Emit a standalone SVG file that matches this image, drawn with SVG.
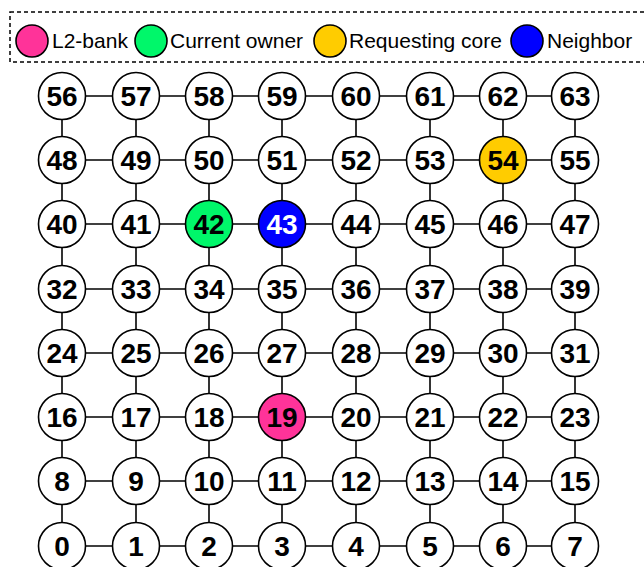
<svg xmlns="http://www.w3.org/2000/svg" width="644" height="567" viewBox="0 0 644 567">
<style>
.n circle{fill:#fff;stroke:#000;stroke-width:1.6}
.n text{font-family:"Liberation Sans",Arial,sans-serif;font-weight:bold;font-size:28px;text-anchor:middle;fill:#000}
.lg text{font-family:"Liberation Sans",Arial,sans-serif;font-size:21px;fill:#000}
.lg circle{stroke:#000;stroke-width:1.6}
#edges line{stroke:#000;stroke-width:1.6}
</style>
<rect width="644" height="567" fill="#fff"/>
<g id="legend" class="lg">
<rect x="10" y="12" width="640" height="50" fill="none" stroke="#000" stroke-width="1.5" stroke-dasharray="4,3"/>
<circle cx="32" cy="41" r="16" fill="#FF3399"/><text x="52" y="48">L2-bank</text>
<circle cx="151" cy="41" r="16" fill="#00F76A"/><text x="170" y="48">Current owner</text>
<circle cx="330" cy="41" r="16" fill="#FFCC00"/><text x="349" y="48">Requesting core</text>
<circle cx="527" cy="41" r="16" fill="#0000FF"/><text x="547" y="48">Neighbor</text>
</g>
<g id="edges">
<line x1="62" y1="96" x2="575" y2="96"/>
<line x1="62" y1="160" x2="575" y2="160"/>
<line x1="62" y1="224" x2="575" y2="224"/>
<line x1="62" y1="289" x2="575" y2="289"/>
<line x1="62" y1="353" x2="575" y2="353"/>
<line x1="62" y1="417" x2="575" y2="417"/>
<line x1="62" y1="481" x2="575" y2="481"/>
<line x1="62" y1="546" x2="575" y2="546"/>
<line x1="62" y1="96" x2="62" y2="546"/>
<line x1="136" y1="96" x2="136" y2="546"/>
<line x1="209" y1="96" x2="209" y2="546"/>
<line x1="282" y1="96" x2="282" y2="546"/>
<line x1="356" y1="96" x2="356" y2="546"/>
<line x1="430" y1="96" x2="430" y2="546"/>
<line x1="503" y1="96" x2="503" y2="546"/>
<line x1="575" y1="96" x2="575" y2="546"/>
</g>
<g id="n56" class="n"><circle cx="62" cy="96" r="23.5"/><text x="62" y="106">56</text></g>
<g id="n57" class="n"><circle cx="136" cy="96" r="23.5"/><text x="136" y="106">57</text></g>
<g id="n58" class="n"><circle cx="209" cy="96" r="23.5"/><text x="209" y="106">58</text></g>
<g id="n59" class="n"><circle cx="282" cy="96" r="23.5"/><text x="282" y="106">59</text></g>
<g id="n60" class="n"><circle cx="356" cy="96" r="23.5"/><text x="356" y="106">60</text></g>
<g id="n61" class="n"><circle cx="430" cy="96" r="23.5"/><text x="430" y="106">61</text></g>
<g id="n62" class="n"><circle cx="503" cy="96" r="23.5"/><text x="503" y="106">62</text></g>
<g id="n63" class="n"><circle cx="575" cy="96" r="23.5"/><text x="575" y="106">63</text></g>
<g id="n48" class="n"><circle cx="62" cy="160" r="23.5"/><text x="62" y="170">48</text></g>
<g id="n49" class="n"><circle cx="136" cy="160" r="23.5"/><text x="136" y="170">49</text></g>
<g id="n50" class="n"><circle cx="209" cy="160" r="23.5"/><text x="209" y="170">50</text></g>
<g id="n51" class="n"><circle cx="282" cy="160" r="23.5"/><text x="282" y="170">51</text></g>
<g id="n52" class="n"><circle cx="356" cy="160" r="23.5"/><text x="356" y="170">52</text></g>
<g id="n53" class="n"><circle cx="430" cy="160" r="23.5"/><text x="430" y="170">53</text></g>
<g id="n54" class="n"><circle cx="503" cy="160" r="23.5" style="fill:#FFCC00"/><text x="503" y="170">54</text></g>
<g id="n55" class="n"><circle cx="575" cy="160" r="23.5"/><text x="575" y="170">55</text></g>
<g id="n40" class="n"><circle cx="62" cy="224" r="23.5"/><text x="62" y="234">40</text></g>
<g id="n41" class="n"><circle cx="136" cy="224" r="23.5"/><text x="136" y="234">41</text></g>
<g id="n42" class="n"><circle cx="209" cy="224" r="23.5" style="fill:#00F76A"/><text x="209" y="234">42</text></g>
<g id="n43" class="n"><circle cx="282" cy="224" r="23.5" style="fill:#0000FF"/><text x="282" y="234" style="fill:#fff">43</text></g>
<g id="n44" class="n"><circle cx="356" cy="224" r="23.5"/><text x="356" y="234">44</text></g>
<g id="n45" class="n"><circle cx="430" cy="224" r="23.5"/><text x="430" y="234">45</text></g>
<g id="n46" class="n"><circle cx="503" cy="224" r="23.5"/><text x="503" y="234">46</text></g>
<g id="n47" class="n"><circle cx="575" cy="224" r="23.5"/><text x="575" y="234">47</text></g>
<g id="n32" class="n"><circle cx="62" cy="289" r="23.5"/><text x="62" y="299">32</text></g>
<g id="n33" class="n"><circle cx="136" cy="289" r="23.5"/><text x="136" y="299">33</text></g>
<g id="n34" class="n"><circle cx="209" cy="289" r="23.5"/><text x="209" y="299">34</text></g>
<g id="n35" class="n"><circle cx="282" cy="289" r="23.5"/><text x="282" y="299">35</text></g>
<g id="n36" class="n"><circle cx="356" cy="289" r="23.5"/><text x="356" y="299">36</text></g>
<g id="n37" class="n"><circle cx="430" cy="289" r="23.5"/><text x="430" y="299">37</text></g>
<g id="n38" class="n"><circle cx="503" cy="289" r="23.5"/><text x="503" y="299">38</text></g>
<g id="n39" class="n"><circle cx="575" cy="289" r="23.5"/><text x="575" y="299">39</text></g>
<g id="n24" class="n"><circle cx="62" cy="353" r="23.5"/><text x="62" y="363">24</text></g>
<g id="n25" class="n"><circle cx="136" cy="353" r="23.5"/><text x="136" y="363">25</text></g>
<g id="n26" class="n"><circle cx="209" cy="353" r="23.5"/><text x="209" y="363">26</text></g>
<g id="n27" class="n"><circle cx="282" cy="353" r="23.5"/><text x="282" y="363">27</text></g>
<g id="n28" class="n"><circle cx="356" cy="353" r="23.5"/><text x="356" y="363">28</text></g>
<g id="n29" class="n"><circle cx="430" cy="353" r="23.5"/><text x="430" y="363">29</text></g>
<g id="n30" class="n"><circle cx="503" cy="353" r="23.5"/><text x="503" y="363">30</text></g>
<g id="n31" class="n"><circle cx="575" cy="353" r="23.5"/><text x="575" y="363">31</text></g>
<g id="n16" class="n"><circle cx="62" cy="417" r="23.5"/><text x="62" y="427">16</text></g>
<g id="n17" class="n"><circle cx="136" cy="417" r="23.5"/><text x="136" y="427">17</text></g>
<g id="n18" class="n"><circle cx="209" cy="417" r="23.5"/><text x="209" y="427">18</text></g>
<g id="n19" class="n"><circle cx="282" cy="417" r="23.5" style="fill:#FF3399"/><text x="282" y="427">19</text></g>
<g id="n20" class="n"><circle cx="356" cy="417" r="23.5"/><text x="356" y="427">20</text></g>
<g id="n21" class="n"><circle cx="430" cy="417" r="23.5"/><text x="430" y="427">21</text></g>
<g id="n22" class="n"><circle cx="503" cy="417" r="23.5"/><text x="503" y="427">22</text></g>
<g id="n23" class="n"><circle cx="575" cy="417" r="23.5"/><text x="575" y="427">23</text></g>
<g id="n8" class="n"><circle cx="62" cy="481" r="23.5"/><text x="62" y="491">8</text></g>
<g id="n9" class="n"><circle cx="136" cy="481" r="23.5"/><text x="136" y="491">9</text></g>
<g id="n10" class="n"><circle cx="209" cy="481" r="23.5"/><text x="209" y="491">10</text></g>
<g id="n11" class="n"><circle cx="282" cy="481" r="23.5"/><text x="282" y="491">11</text></g>
<g id="n12" class="n"><circle cx="356" cy="481" r="23.5"/><text x="356" y="491">12</text></g>
<g id="n13" class="n"><circle cx="430" cy="481" r="23.5"/><text x="430" y="491">13</text></g>
<g id="n14" class="n"><circle cx="503" cy="481" r="23.5"/><text x="503" y="491">14</text></g>
<g id="n15" class="n"><circle cx="575" cy="481" r="23.5"/><text x="575" y="491">15</text></g>
<g id="n0" class="n"><circle cx="62" cy="546" r="23.5"/><text x="62" y="556">0</text></g>
<g id="n1" class="n"><circle cx="136" cy="546" r="23.5"/><text x="136" y="556">1</text></g>
<g id="n2" class="n"><circle cx="209" cy="546" r="23.5"/><text x="209" y="556">2</text></g>
<g id="n3" class="n"><circle cx="282" cy="546" r="23.5"/><text x="282" y="556">3</text></g>
<g id="n4" class="n"><circle cx="356" cy="546" r="23.5"/><text x="356" y="556">4</text></g>
<g id="n5" class="n"><circle cx="430" cy="546" r="23.5"/><text x="430" y="556">5</text></g>
<g id="n6" class="n"><circle cx="503" cy="546" r="23.5"/><text x="503" y="556">6</text></g>
<g id="n7" class="n"><circle cx="575" cy="546" r="23.5"/><text x="575" y="556">7</text></g>
</svg>
